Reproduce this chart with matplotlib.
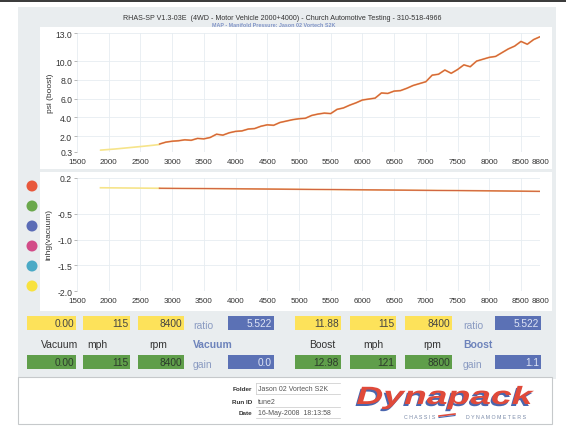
import matplotlib
matplotlib.use("Agg")
import matplotlib.pyplot as plt
from matplotlib.patches import Rectangle, Circle, PathPatch
from matplotlib.textpath import TextPath
from matplotlib.font_manager import FontProperties
from matplotlib.transforms import Affine2D

# ---------------- data ----------------
title = "RHAS-SP V1.3-03E  (4WD - Motor Vehicle 2000+4000) - Church Automotive Testing - 310-518-4966"
subtitle = "MAP - Manifold Pressure: Jason 02 Vortech S2K"

x_ticks = [1500, 2000, 2500, 3000, 3500, 4000, 4500, 5000, 5500, 6000,
           6500, 7000, 7500, 8000, 8500, 8800]
boost_ticks = [0.3, 2.0, 4.0, 6.0, 8.0, 10.0, 13.0]
boost_tick_labels = ["0.3", "2.0", "4.0", "6.0", "8.0", "10.0", "13.0"]
vac_ticks = [0.2, -0.5, -1.0, -1.5, -2.0]
vac_tick_labels = ["0.2", "-0.5", "-1.0", "-1.5", "-2.0"]

# faint (yellow) start of the run
boost_pre_rpm = [1870, 2100, 2300, 2500, 2700, 2800]
boost_pre_psi = [0.50, 0.62, 0.75, 0.88, 1.02, 1.10]

boost_rpm = [2800, 2900, 3000, 3100, 3200, 3300, 3400, 3500, 3600, 3700,
             3800, 3900, 4000, 4100, 4200, 4300, 4400, 4500, 4600, 4700,
             4800, 4900, 5000, 5100, 5200, 5300, 5400, 5500, 5600, 5700,
             5800, 5900, 6000, 6100, 6200, 6300, 6400, 6500, 6600, 6700,
             6800, 6900, 7000, 7100, 7200, 7300, 7400, 7500, 7600, 7700,
             7800, 7900, 8000, 8100, 8200, 8300, 8400, 8500, 8600, 8700, 8800]
boost_psi = [1.15, 1.35, 1.45, 1.50, 1.60, 1.55, 1.75, 1.70, 1.85, 2.20,
             2.10, 2.35, 2.50, 2.55, 2.75, 2.80, 3.05, 3.20, 3.15, 3.45,
             3.60, 3.75, 3.85, 3.90, 4.20, 4.35, 4.45, 4.40, 4.85, 5.00,
             5.30, 5.55, 5.85, 5.95, 6.05, 6.60, 6.55, 6.80, 6.85, 7.10,
             7.40, 7.60, 7.80, 8.50, 8.60, 9.05, 8.70, 9.10, 9.60, 9.40,
             10.00, 10.20, 10.40, 10.50, 10.90, 11.30, 11.60, 12.10, 11.80, 12.30, 12.60]

vac_pre_rpm = [1870, 2800]
vac_pre_val = [0.01, 0.00]
vac_rpm = [2800, 4000, 5000, 6000, 7000, 8000, 8800]
vac_val = [0.00, -0.01, -0.02, -0.03, -0.04, -0.05, -0.06]

run_colors = ["#e8583c", "#6aa84c", "#5a6cb6", "#d24c88", "#4aaac6", "#f8e23e"]

left_values = ["0.00", "115", "8400"]
left_peak = ["0.00", "115", "8400"]
left_labels = ["Vacuum", "mph", "rpm"]
left_ratio, left_gain, left_title = "5.522", "0.0", "Vacuum"
right_values = ["11.88", "115", "8400"]
right_peak = ["12.98", "121", "8800"]
right_labels = ["Boost", "mph", "rpm"]
right_ratio, right_gain, right_title = "5.522", "1.1", "Boost"

folder = "Jason 02 Vortech S2K"
run_id = "tune2"
date = "16-May-2008  18:13:58"

# ---------------- layout ----------------
W, H = 566, 435
fig = plt.figure(figsize=(W / 100, H / 100), dpi=100)
fig.patch.set_facecolor("white")
SANS = ["Liberation Sans", "DejaVu Sans"]

# overlay axes in pixel coordinates (origin top-left)
bg = fig.add_axes([0, 0, 1, 1], zorder=0)
bg.set_xlim(0, W)
bg.set_ylim(H, 0)
bg.axis("off")


def fx(x):
    return x / W


def fy(y):
    return 1 - y / H


def rect(x0, y0, x1, y1, fc, ec="none", lw=0, z=0):
    bg.add_patch(Rectangle((x0, y0), x1 - x0, y1 - y0, facecolor=fc,
                           edgecolor=ec, linewidth=lw, zorder=z))


def text(x, y, s, **kw):
    bg.text(x, y, s, **kw)


def line(xs, ys, **kw):
    bg.plot(xs, ys, **kw)


# background panels
rect(0, 0, 566, 3, "#3c3c3c")
rect(18, 8, 556, 380, "#e9edef")
rect(40, 28, 552, 170, "white", z=0.5)
rect(40, 173, 552, 312, "white", z=0.5)
rect(18, 378, 552, 425, "white", ec="#c6c9cb", lw=0.8, z=0.5)

text(282, 18, title, ha="center", va="center", fontsize=5.1, family=SANS, color="#333333")
text(274, 25.5, subtitle, ha="center", va="center", fontsize=3.9, family=SANS,
     color="#7f93c6", fontweight="bold")

# ---------------- chart axes ----------------
ax1 = fig.add_axes([fx(77), fy(153), (540 - 77) / W, (153 - 34) / H], zorder=1)
ax2 = fig.add_axes([fx(77), fy(292), (540 - 77) / W, (292 - 179) / H], zorder=1)

for ax in (ax1, ax2):
    ax.set_facecolor("none")
    for sp in ax.spines.values():
        sp.set_visible(False)
    ax.set_xlim(1500, 8800)
    ax.set_xticks(x_ticks)
    ax.set_xticklabels([str(t) for t in x_ticks], fontsize=5.8, family=SANS, color="#333333")
    ax.tick_params(axis="x", length=0, pad=4)
    ax.tick_params(axis="y", length=2.5, width=0.5, color="#9a9a9a", pad=1)
    ax.grid(True, color="#e6edf1", linewidth=0.6)
    ax.set_axisbelow(True)

ax1.set_ylim(0.3, 13.0)
ax1.set_yticks(boost_ticks)
ax1.set_yticklabels(boost_tick_labels, fontsize=6.2, family=SANS, color="#333333")
ax1.plot(boost_pre_rpm, boost_pre_psi, color="#f6e48a", lw=1.2, solid_capstyle="round")
ax1.plot(boost_rpm, boost_psi, color="#f2a862", lw=1.3, solid_capstyle="round")
ax1.plot(boost_rpm, boost_psi, color="#d0603a", lw=0.75, solid_capstyle="round")

ax2.set_ylim(-2.0, 0.2)
ax2.set_yticks(vac_ticks)
ax2.set_yticklabels(vac_tick_labels, fontsize=6.2, family=SANS, color="#333333")
ax2.plot(vac_pre_rpm, vac_pre_val, color="#f6e48a", lw=1.2)
ax2.plot(vac_rpm, vac_val, color="#eaa060", lw=1.2)
ax2.plot(vac_rpm, vac_val, color="#cc5a3a", lw=0.6)

text(50, 93, "psi (boost)", rotation=90, ha="center", va="center", fontsize=6,
     family=SANS, color="#333333")
text(49, 234, "inhg(vacuum)", rotation=90, ha="center", va="center", fontsize=6,
     family=SANS, color="#333333")

# run colour dots
for i, c in enumerate(run_colors):
    bg.add_patch(Circle((32, 187 + i * 20), 5.5, facecolor=c, edgecolor="none", zorder=3))

# ---------------- value table ----------------
YEL, GRN, BLU = "#fde25a", "#5f9e4a", "#5b71b5"
LBL = "#8a9bc2"


def group(xs, vals, peaks, labels, lab_x, ratio, gain, gtitle, rx, bx):
    for (x0, x1), v in zip(xs, vals):
        rect(x0, 317, x1, 331, YEL, z=1)
        text(x1 - 2, 324, v, ha="right", va="center", fontsize=7.3, family=SANS, color="#444444")
    for (x0, x1), v in zip(xs, peaks):
        rect(x0, 356, x1, 370, GRN, z=1)
        text(x1 - 2, 363, v, ha="right", va="center", fontsize=7.3, family=SANS, color="#2c3a2c")
    for lx, l in zip(lab_x, labels):
        text(lx, 345, l, ha="center", va="center", fontsize=7.5, family=SANS, color="#333333")
    rect(bx[0], 317, bx[1], 331, BLU, z=1)
    rect(bx[0], 356, bx[1], 370, BLU, z=1)
    text(bx[1] - 2, 324, ratio, ha="right", va="center", fontsize=7.3, family=SANS, color="#dfe5f5")
    text(bx[1] - 2, 363, gain, ha="right", va="center", fontsize=7.3, family=SANS, color="#dfe5f5")
    text(rx, 326, "ratio", ha="left", va="center", fontsize=7.5, family=SANS, color=LBL)
    text(rx, 365, "gain", ha="left", va="center", fontsize=7.5, family=SANS, color=LBL)
    text(rx, 345, gtitle, ha="left", va="center", fontsize=7.5, family=SANS,
         color="#6d83bb", fontweight="bold")


group([(27, 76), (83, 130), (138, 184)], left_values, left_peak, left_labels,
      [60, 97, 158], left_ratio, left_gain, left_title, 193, (228, 274))
group([(295, 341), (350, 396), (405, 452)], right_values, right_peak, right_labels,
      [322, 373, 432], right_ratio, right_gain, right_title, 463, (495, 541))

# ---------------- footer ----------------
for y, lab, val in [(390, "Folder", folder), (403, "Run ID", run_id), (414, "Date", date)]:
    text(252, y, lab, ha="right", va="center", fontsize=4.6, family=SANS,
         fontweight="bold", color="#333333", zorder=2)
    text(258, y, val, ha="left", va="center", fontsize=5, family=SANS, color="#555555", zorder=2)
    line([256, 340], [y + 5, y + 5], color="#c8c8c8", lw=0.5, zorder=2)
line([256, 340], [384, 384], color="#c8c8c8", lw=0.5, zorder=2)
line([256, 256], [384, 395], color="#c8c8c8", lw=0.5, zorder=2)

# Dynapack logo drawn as a text path fitted to its box
fp = FontProperties(family=SANS, weight="bold", style="italic")
tp = TextPath((0, 0), "Dynapack", prop=fp, size=10)
bb = tp.get_extents()


def logo(x0, x1, ytop, ybase, color, dx=0, dy=0):
    sx = (x1 - x0) / bb.width
    sy = (ybase - ytop) / (10 * 0.72)
    tr = Affine2D().translate(-bb.x0, 0).scale(sx, -sy).translate(x0 + dx, ybase + dy)
    bg.add_patch(PathPatch(tr.transform_path(tp), facecolor=color, edgecolor="none", zorder=4))


logo(357, 534, 387, 405, "#4a66ae", dx=-1.5, dy=2)
logo(357, 534, 387, 405, "#e04a3a")
text(420, 417.5, "C H A S S I S", ha="center", va="center", fontsize=3.8, family=SANS,
     color="#7a8aa8", zorder=4)
text(496, 417.5, "D Y N A M O M E T E R S", ha="center", va="center", fontsize=3.8, family=SANS,
     color="#7a8aa8", zorder=4)
line([439, 455], [417, 415], color="#e04a3a", lw=1.2, zorder=4)
line([439, 455], [418.5, 416.5], color="#4a66ae", lw=0.8, zorder=4)

fig.savefig("out.png", dpi=100)
